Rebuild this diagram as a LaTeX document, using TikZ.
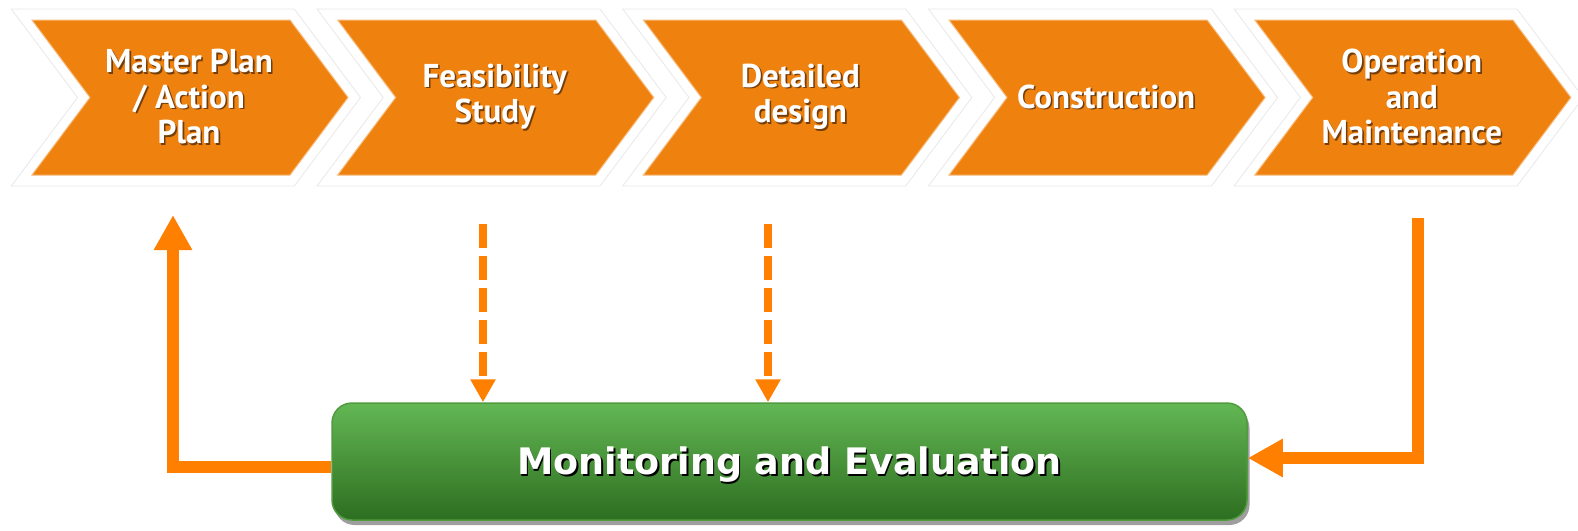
\documentclass[tikz,border=0pt]{standalone}
\usepackage{fontspec}
\setmainfont{DejaVu Sans}
\newfontfamily\chevfont{PT Sans}
\usepackage{xcolor}
\usetikzlibrary{arrows.meta,shadows,positioning}

\definecolor{chevorange}{RGB}{239,129,14}
\definecolor{chevedge}{RGB}{247,186,122}
\definecolor{chevshade}{RGB}{115,62,12}
\definecolor{flowors}{RGB}{255,128,0}
\definecolor{metop}{RGB}{99,183,84}
\definecolor{mebot}{RGB}{45,110,32}
\definecolor{meedge}{RGB}{80,155,62}

% text with a small cast shadow
\newcommand\castshadow[2]{\leavevmode\rlap{\kern1.6pt\raisebox{-1.6pt}{\textcolor{#1}{#2}}}#2}

\tikzset{
  glow/.style={fill=white, draw=black!9, line width=0.8pt},
  chevron/.style={fill=chevorange, draw=chevedge, line width=1pt},
  chevtext/.style={font=\chevfont\bfseries\fontsize{33}{35.5}\selectfont, text=white, align=center, inner sep=0pt},
  mebox/.style={rounded corners=20pt, top color=metop, bottom color=mebot, draw=meedge, line width=1.5pt,
    drop shadow={shadow xshift=2.5pt, shadow yshift=-5pt, fill=black!38, opacity=1},
    minimum width=915pt, minimum height=117pt, inner sep=0pt, text height=26.6pt, text depth=0pt,
    font=\bfseries\fontsize{36.5}{40}\selectfont, text=white},
  fb/.style={draw=flowors, line width=12pt, line join=miter, -{Triangle[length=35pt,width=36pt]}},
  dfb/.style={draw=flowors, line width=8pt, dash pattern=on 24pt off 8pt, -{Triangle[length=23pt,width=24pt]}}
}

\begin{document}
\begin{tikzpicture}[x=1pt,y=-1pt]
	\useasboundingbox (0,0) rectangle (1578,530);

	% white halos behind the chevrons
	\foreach \i in {1,...,5}{
		\pgfmathsetmacro{\L}{32+(\i-1)*305.7}
		\path[glow] (\L-20.7,9) -- (\L+262.3,9) -- (\L+328.5,97.5) -- (\L+262.3,186) -- (\L-20.7,186) -- (\L+45.5,97.5) -- cycle;
	}

	% the five phases
	\foreach \i/\txt in {1/{\castshadow{chevshade}{Master Plan}\\\castshadow{chevshade}{/ Action}\\\castshadow{chevshade}{Plan}},
		2/{\castshadow{chevshade}{Feasibility}\\\castshadow{chevshade}{Study}},
		3/{\castshadow{chevshade}{Detailed}\\\castshadow{chevshade}{design}},
		4/{\castshadow{chevshade}{Construction}},
		5/{\castshadow{chevshade}{Operation}\\\castshadow{chevshade}{and}\\\castshadow{chevshade}{Maintenance}}}{
		\pgfmathsetmacro{\L}{32+(\i-1)*305.7}
		\path[chevron] (\L,20) -- (\L+258,20) -- (\L+316,97.5) -- (\L+258,175) -- (\L,175) -- (\L+58,97.5) -- cycle;
		\node[chevtext] (c\i) at (\L+157,97.5) {\txt};
	}

	\node[mebox] (mne) at (789.5,461.5) {\castshadow{black}{Monitoring and Evaluation}};

	\coordinate (up1) at (173,215);
	\coordinate (dn2) at (483,224);
	\coordinate (dn3) at (768,224);
	\coordinate (dn5) at (1418,218);

	\draw[fb] ([yshift=-5.5pt]mne.west) -| (up1);
	\draw[dfb] (dn2) -- (dn2 |- mne.north);
	\draw[dfb] (dn3) -- (dn3 |- mne.north);
	\draw[fb] (dn5) |- ([yshift=3.5pt]mne.east);
\end{tikzpicture}
\end{document}
